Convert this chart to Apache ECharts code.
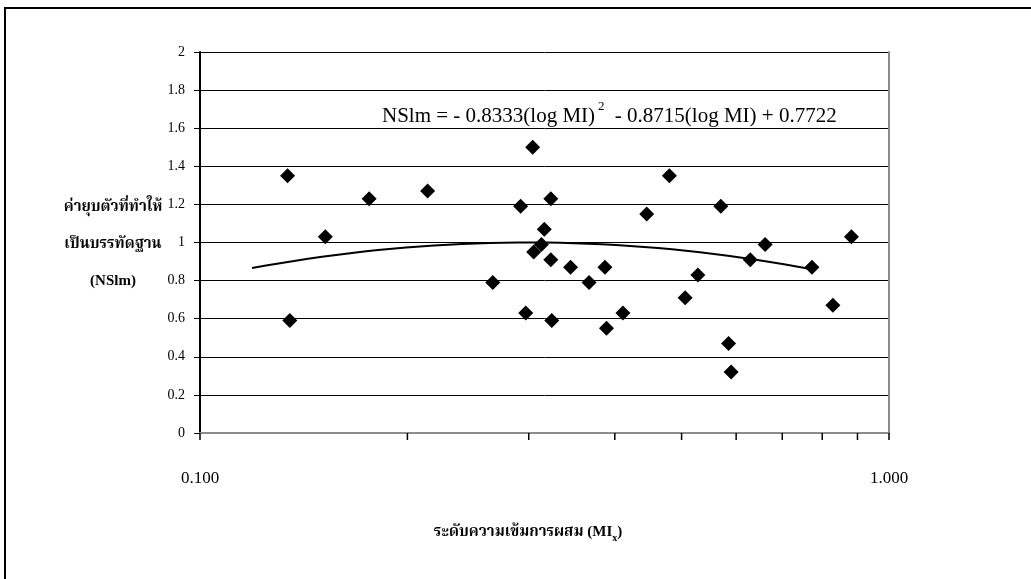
<!DOCTYPE html>
<html>
<head>
<meta charset="utf-8">
<script src="https://cdn.jsdelivr.net/npm/echarts@6/dist/echarts.min.js"></script>
<style>
  html, body { margin: 0; padding: 0; background: #ffffff; }
  #chart { width: 1031px; height: 579px; }
</style>
</head>
<body>
<div id="chart"></div>
<script>
// Mixing intensity level (MI) of each sample
const miValues = [
  0.134, 0.135, 0.152, 0.176, 0.214, 0.266, 0.292, 0.297, 0.304, 0.305, 0.313,
  0.316, 0.323, 0.323, 0.324, 0.345, 0.367, 0.387, 0.389, 0.411, 0.445, 0.480,
  0.506, 0.528, 0.570, 0.585, 0.590, 0.629, 0.661, 0.773, 0.829, 0.882
];
// Normalised settlement value (NSlm) of each sample
const nslmValues = [
  1.35, 0.59, 1.03, 1.23, 1.27, 0.79, 1.19, 0.63, 1.50, 0.95, 0.99,
  1.07, 1.23, 0.91, 0.59, 0.87, 0.79, 0.87, 0.55, 0.63, 1.15, 1.35,
  0.71, 0.83, 1.19, 0.47, 0.32, 0.91, 0.99, 0.87, 0.67, 1.03
];
// Quadratic fit in log10(MI): NSlm = a*L^2 + b*L + c
const fitCoefficients = [-0.8333, -0.8715, 0.7722];
const fitRange = [0.119, 0.773];
// Intermediate tick marks on the logarithmic MI axis
const xMinorTicks = [0.2, 0.3, 0.4, 0.5, 0.6, 0.7, 0.8, 0.9];

const serif = "'Liberation Serif', 'Times New Roman', 'Noto Serif Thai', 'Noto Sans Thai', serif";

// Sample the fitted curve evenly in log space across its range
function fitCurve() {
  const pts = [];
  const n = 40;
  const l0 = Math.log10(fitRange[0]);
  const l1 = Math.log10(fitRange[1]);
  for (let i = 0; i <= n; i++) {
    const L = l0 + (l1 - l0) * i / n;
    const y = fitCoefficients[0] * L * L + fitCoefficients[1] * L + fitCoefficients[2];
    pts.push([Math.pow(10, L), y]);
  }
  return pts;
}

const points = miValues.map((x, i) => [x, nslmValues[i]]);

const chart = echarts.init(document.getElementById('chart'), null, { renderer: 'canvas' });

chart.setOption({
  backgroundColor: '#ffffff',
  animation: false,
  grid: { left: 200, top: 52, width: 689, height: 381, containLabel: false },
  xAxis: [
    {
      type: 'log',
      logBase: 10,
      min: 0.1,
      max: 1,
      axisLine: { show: true, lineStyle: { color: '#000', width: 2 } },
      axisTick: { show: true, length: 7, lineStyle: { color: '#000', width: 1.5 } },
      axisLabel: {
        margin: 37,
        fontFamily: serif,
        fontSize: 17,
        color: '#000',
        formatter: v => Number(v).toFixed(3)
      },
      splitLine: { show: false }
    },
    {
      type: 'log',
      logBase: 10,
      min: 0.1,
      max: 1,
      position: 'top',
      axisLine: { show: true, lineStyle: { color: '#8c8c8c', width: 2 } },
      axisTick: { show: false },
      axisLabel: { show: false },
      splitLine: { show: false }
    }
  ],
  yAxis: [
    {
      type: 'value',
      min: 0,
      max: 2,
      interval: 0.2,
      axisLine: { show: true, lineStyle: { color: '#000', width: 2 } },
      axisTick: { show: true, inside: false, length: 6, lineStyle: { color: '#000', width: 1 } },
      axisLabel: { margin: 15, fontFamily: serif, fontSize: 14, color: '#000' },
      splitLine: { show: true, lineStyle: { color: '#000', width: 1 } }
    },
    {
      type: 'value',
      min: 0,
      max: 2,
      position: 'right',
      axisLine: { show: true, lineStyle: { color: '#8c8c8c', width: 2 } },
      axisTick: { show: false },
      axisLabel: { show: false },
      splitLine: { show: false }
    }
  ],
  series: [
    {
      name: 'trend',
      type: 'line',
      data: fitCurve(),
      showSymbol: false,
      smooth: false,
      lineStyle: { color: '#000', width: 2 },
      z: 2
    },
    {
      name: 'NSlm',
      type: 'scatter',
      data: points,
      symbol: 'diamond',
      symbolSize: 15,
      itemStyle: { color: '#000', opacity: 1 },
      z: 3
    },
    {
      name: 'minor ticks',
      type: 'custom',
      clip: false,
      silent: true,
      data: xMinorTicks.map(v => [v, 0]),
      renderItem: (params, api) => {
        const p = api.coord([api.value(0), 0]);
        return {
          type: 'line',
          shape: { x1: p[0], y1: p[1], x2: p[0], y2: p[1] + 7 },
          style: { stroke: '#000', lineWidth: 1.5 }
        };
      },
      z: 4
    }
  ],
  graphic: [
    {
      type: 'rect',
      silent: true,
      shape: { x: 5, y: 8, width: 1100, height: 700 },
      style: { fill: 'none', stroke: '#000', lineWidth: 2 }
    },
    {
      type: 'text',
      silent: true,
      style: {
        x: 113,
        y: 244,
        text: 'ค่ายุบตัวที่ทำให้\nเป็นบรรทัดฐาน\n(NSlm)',
        align: 'center',
        verticalAlign: 'middle',
        lineHeight: 37,
        font: 'bold 15px ' + serif,
        fill: '#000'
      }
    },
    {
      type: 'text',
      silent: true,
      style: {
        x: 528,
        y: 532,
        text: '{t|ระดับความเข้มการผสม (MI}{s|x}{t|)}',
        align: 'center',
        verticalAlign: 'middle',
        fill: '#000',
        rich: {
          t: { fontFamily: serif, fontSize: 15, fontWeight: 'bold', lineHeight: 22, verticalAlign: 'middle' },
          s: { fontFamily: serif, fontSize: 10, fontWeight: 'bold', lineHeight: 10, verticalAlign: 'bottom' }
        }
      }
    },
    {
      type: 'text',
      silent: true,
      style: {
        x: 382,
        y: 116,
        text: '{t|NSlm = - 0.8333(log MI)}{s|2}{t| - 0.8715(log MI) + 0.7722}',
        align: 'left',
        verticalAlign: 'middle',
        fill: '#000',
        rich: {
          t: { fontFamily: serif, fontSize: 21, lineHeight: 32, verticalAlign: 'middle' },
          s: { fontFamily: serif, fontSize: 13, lineHeight: 14, verticalAlign: 'top', padding: [0, 5, 0, 3] }
        }
      }
    }
  ]
});
</script>
</body>
</html>
